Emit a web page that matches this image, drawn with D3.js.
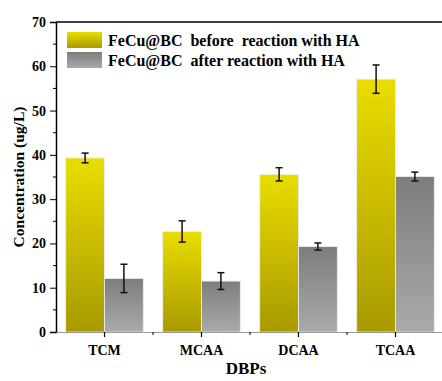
<!DOCTYPE html>
<html><head><meta charset="utf-8">
<script src="https://cdn.jsdelivr.net/npm/d3@7"></script>
<style>body{margin:0;background:#fff}text{font-family:"Liberation Serif","Times New Roman",serif;font-weight:bold}</style>
</head><body><svg id="c" width="442" height="381"></svg>
<script>
const categories = ["TCM","MCAA","DCAA","TCAA"];
const seriesNames = ["FeCu@BC  before  reaction with HA","FeCu@BC  after reaction with HA"];
const beforeVals = [39.3, 22.7, 35.6, 57.1];
const beforeErr  = [1.1, 2.4, 1.5, 3.2];
const afterVals  = [12.1, 11.5, 19.3, 35.1];
const afterErr   = [3.2, 1.9, 0.8, 1.0];
const yTicks = [0,10,20,30,40,50,60,70];

const svg = d3.select("#c");
const L=56, R=444, T=22, B=332;
const x = d3.scaleBand().domain(categories).range([L,R]).paddingInner(0.2).paddingOuter(0.1);
const xs = d3.scaleBand().domain([0,1]).range([0,x.bandwidth()]);
const y = d3.scaleLinear().domain([0,70]).range([B,T]);

const defs = svg.append("defs");
const g1 = defs.append("linearGradient").attr("id","gy").attr("x1",0).attr("y1",0).attr("x2",0).attr("y2",1);
g1.append("stop").attr("offset","0%").attr("stop-color","#e9dd00");
g1.append("stop").attr("offset","100%").attr("stop-color","#a89a00");
const g2 = defs.append("linearGradient").attr("id","gg").attr("x1",0).attr("y1",0).attr("x2",0).attr("y2",1);
g2.append("stop").attr("offset","0%").attr("stop-color","#7d7d7d");
g2.append("stop").attr("offset","100%").attr("stop-color","#aaaaaa");
const fills=["url(#gy)","url(#gg)"];

const data=[];
categories.forEach((c,i)=>{
  data.push({c,s:0,v:beforeVals[i],e:beforeErr[i]});
  data.push({c,s:1,v:afterVals[i],e:afterErr[i]});
});

svg.selectAll("rect.bar").data(data).enter().append("rect").attr("class","bar")
  .attr("x",d=>x(d.c)+xs(d.s)).attr("width",xs.bandwidth())
  .attr("y",d=>y(d.v)).attr("height",d=>y(0)-y(d.v))
  .attr("fill",d=>fills[d.s]).attr("stroke","#eeeeee").attr("stroke-width",0.8);

// error bars
const eb = svg.selectAll("g.eb").data(data).enter().append("g").attr("class","eb")
  .attr("stroke","#111").attr("stroke-width",1.5);
const cx = d=>x(d.c)+xs(d.s)+xs.bandwidth()/2;
eb.append("line").attr("x1",cx).attr("x2",cx).attr("y1",d=>y(d.v-d.e)).attr("y2",d=>y(d.v+d.e));
eb.append("line").attr("x1",d=>cx(d)-3.5).attr("x2",d=>cx(d)+3.5).attr("y1",d=>y(d.v+d.e)).attr("y2",d=>y(d.v+d.e));
eb.append("line").attr("x1",d=>cx(d)-3.5).attr("x2",d=>cx(d)+3.5).attr("y1",d=>y(d.v-d.e)).attr("y2",d=>y(d.v-d.e));

// y axis
const ya = svg.append("g").attr("transform",`translate(${L},0)`)
  .call(d3.axisLeft(y).tickValues(yTicks).tickSize(6).tickPadding(4));
ya.attr("font-family",null).attr("font-size",null);
ya.select(".domain").attr("stroke","#000").attr("stroke-width",1.5);
ya.selectAll(".tick line").attr("stroke","#000").attr("stroke-width",1);
ya.selectAll(".tick text").style("font-size","14px").attr("fill","#000");
const yMinor = d3.range(5,70,10);
svg.append("g").selectAll("line").data(yMinor).enter().append("line")
  .attr("x1",L-3).attr("x2",L).attr("y1",d=>y(d)).attr("y2",d=>y(d)).attr("stroke","#000");

// top line
svg.append("line").attr("x1",L).attr("x2",442).attr("y1",T).attr("y2",T).attr("stroke","#000").attr("stroke-width",1.6);

// x axis
const xa = svg.append("g").attr("transform",`translate(0,${B})`)
  .call(d3.axisBottom(x).tickSize(5).tickPadding(8).tickSizeOuter(0));
xa.attr("font-family",null).attr("font-size",null);
xa.select(".domain").attr("stroke","#999").attr("stroke-width",1.2);
xa.selectAll(".tick line").attr("stroke","#000").attr("stroke-width",1.2);
xa.selectAll(".tick text").style("font-size","14px").attr("fill","#000");
svg.append("g").selectAll("line").data(categories.slice(0,3)).enter().append("line")
  .attr("x1",d=>x(d)+x.bandwidth()/2+x.step()/2).attr("x2",d=>x(d)+x.bandwidth()/2+x.step()/2)
  .attr("y1",B).attr("y2",B+3).attr("stroke","#000");

// axis titles
svg.append("text").attr("x",246).attr("y",374).attr("text-anchor","middle").style("font-size","17px").text("DBPs");
svg.append("text").attr("transform",`translate(24,${(T+B)/2}) rotate(-90)`).attr("text-anchor","middle")
  .style("font-size","15.5px").text("Concentration (ug/L)");

// legend
const lg = svg.append("g");
seriesNames.forEach((n,i)=>{
  lg.append("rect").attr("x",67).attr("y",32+i*20).attr("width",35).attr("height",16).attr("fill",fills[i]);
  lg.append("text").attr("x",108).attr("y",46+i*20).style("font-size","16px").style("white-space","pre").attr("xml:space","preserve").text(n);
});
</script></body></html>
